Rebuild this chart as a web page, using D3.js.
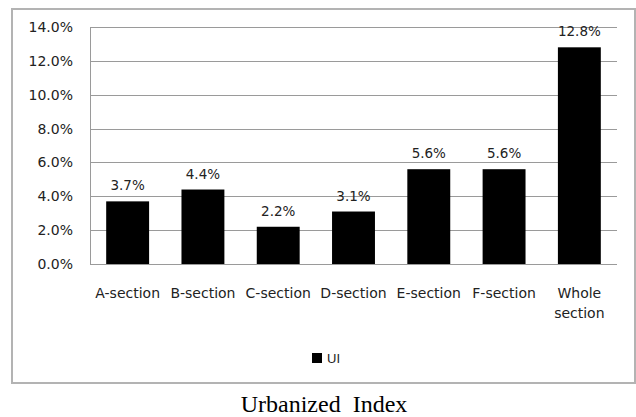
<!DOCTYPE html>
<html>
    <head>
        <title>Urbanized Index</title>
        <meta charset="UTF-8">
        <script type="text/javascript" src="https://d3js.org/d3.v7.min.js"></script>
        <style>
            body {
                margin: 0;
                background: #fff;
            }
            svg {
                display: block;
            }
            text {
                font-family: "DejaVu Sans", sans-serif;
                fill: #222;
            }
        </style>
    </head>
    <body>
        <script>
        // chart data
        var categories = ["A-section", "B-section", "C-section", "D-section", "E-section", "F-section", "Whole section"];
        var uiValues = [0.037, 0.044, 0.022, 0.031, 0.056, 0.056, 0.128];
        var yTicks = [0, 0.02, 0.04, 0.06, 0.08, 0.10, 0.12, 0.14];
        var seriesName = "UI";
        var title = "Urbanized  Index";

        var W = 636, H = 417;
        var svg = d3.select("body").append("svg")
            .attr("width", W)
            .attr("height", H);

        // outer frame
        svg.append("rect")
            .attr("x", 12).attr("y", 9)
            .attr("width", 623).attr("height", 374)
            .attr("fill", "none")
            .attr("stroke", "#b3b3b3")
            .attr("stroke-width", 2);

        var x = d3.scaleBand()
            .domain(categories)
            .range([90, 617])
            .paddingInner(0.43)
            .paddingOuter(0.215);

        var y = d3.scaleLinear()
            .domain([0, 0.14])
            .range([264, 27]);

        var fmt = d3.format(".1%");

        // gridlines
        svg.append("g").selectAll("line")
            .data(yTicks)
          .enter().append("line")
            .attr("x1", 90).attr("x2", 617)
            .attr("y1", function(d) { return Math.round(y(d)) + 0.5; })
            .attr("y2", function(d) { return Math.round(y(d)) + 0.5; })
            .attr("stroke", "#9a9a9a")
            .attr("stroke-width", 1);

        // y axis line
        svg.append("line")
            .attr("x1", 90.5).attr("x2", 90.5)
            .attr("y1", y(0.14)).attr("y2", y(0))
            .attr("stroke", "#9a9a9a");

        // y tick labels
        svg.append("g").selectAll("text")
            .data(yTicks)
          .enter().append("text")
            .attr("x", 73)
            .attr("y", function(d) { return y(d); })
            .attr("dy", "0.36em")
            .attr("text-anchor", "end")
            .attr("font-size", 14)
            .text(function(d) { return fmt(d); });

        // bars
        svg.append("g").selectAll("rect")
            .data(uiValues)
          .enter().append("rect")
            .attr("x", function(d, i) { return x(categories[i]); })
            .attr("y", function(d) { return y(d); })
            .attr("width", x.bandwidth())
            .attr("height", function(d) { return y(0) - y(d); })
            .attr("fill", "#000");

        // value labels
        svg.append("g").selectAll("text")
            .data(uiValues)
          .enter().append("text")
            .attr("x", function(d, i) { return x(categories[i]) + x.bandwidth() / 2; })
            .attr("y", function(d) { return y(d) - 11; })
            .attr("text-anchor", "middle")
            .attr("font-size", 13.5)
            .text(function(d) { return fmt(d); });

        // category labels (wrap on space for long ones)
        svg.append("g").selectAll("text")
            .data(categories)
          .enter().append("text")
            .attr("text-anchor", "middle")
            .attr("font-size", 14)
            .attr("y", 298)
            .each(function(d) {
                var t = d3.select(this);
                var cx = x(d) + x.bandwidth() / 2;
                var words = d.indexOf("-") < 0 ? d.split(" ") : [d];
                words.forEach(function(w, k) {
                    t.append("tspan")
                        .attr("x", cx)
                        .attr("dy", k == 0 ? 0 : 20)
                        .text(w);
                });
            });

        // legend
        svg.append("rect")
            .attr("x", 312).attr("y", 353)
            .attr("width", 10).attr("height", 10)
            .attr("fill", "#000");
        svg.append("text")
            .attr("x", 327).attr("y", 363)
            .attr("font-size", 13)
            .style("font-family", "'Liberation Sans', Arial, sans-serif")
            .text(seriesName);

        // caption below the frame
        svg.append("text")
            .attr("x", 324).attr("y", 412)
            .attr("text-anchor", "middle")
            .attr("font-size", 24)
            .attr("xml:space", "preserve")
            .style("white-space", "pre")
            .style("font-family", "'Liberation Serif', 'Times New Roman', serif")
            .style("fill", "#000")
            .text(title);
        </script>
    </body>
</html>
